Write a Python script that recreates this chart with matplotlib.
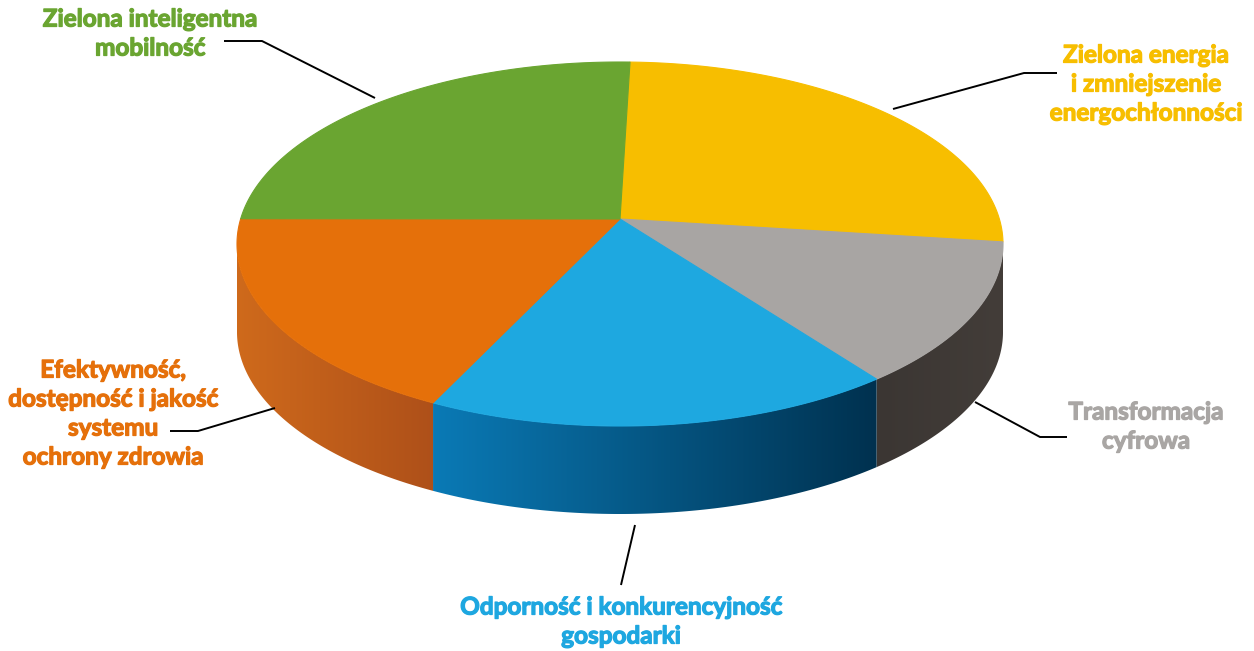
import numpy as np
import matplotlib
matplotlib.use("Agg")
import matplotlib.pyplot as plt
import matplotlib.patheffects as pe
from matplotlib.patches import Polygon
from matplotlib.colors import to_rgb

# ---- data (clockwise from the top) ----
categories = [
    "Zielona energia\ni zmniejszenie\nenergochłonności",
    "Transformacja\ncyfrowa",
    "Odporność i konkurencyjność\ngospodarki",
    "Efektywność,\ndostępność i jakość\nsystemu\nochrony zdrowia",
    "Zielona inteligentna\nmobilność",
]
values = [24.4, 13.5, 19.8, 19.1, 23.2]
top_colors = ["#f7be00", "#a8a5a3", "#1ea8e0", "#e5700a", "#6aa531"]
side_left = ["#c99a00", "#3b3633", "#0a7ab6", "#cf6a1c", "#5a8c2a"]
side_right = ["#b08800", "#433d39", "#00314f", "#ae5019", "#4f7d24"]
label_colors = ["#f7be00", "#a9a6a4", "#1ea7e0", "#e5700a", "#6aa531"]

# ---- geometry (pixel space) ----
W, H = 1254, 651
cx, cy = 620, 244
rx, ry = 383, 182
depth = 88
apex = (620, 219)
start = 88.5

fig = plt.figure(figsize=(W / 100, H / 100), dpi=100)
ax = fig.add_axes([0, 0, 1, 1])
ax.set_xlim(0, W)
ax.set_ylim(H, 0)
ax.axis("off")

total = float(sum(values))
bounds = [start]
for v in values:
    bounds.append(bounds[-1] - v / total * 360.0)


def ept(t, dy=0.0):
    r = np.radians(t)
    return cx + rx * np.cos(r), cy - ry * np.sin(r) + dy


# sides (front half: 180 <= t <= 360)
for i in range(len(values)):
    t0, t1 = bounds[i], bounds[i + 1]  # t0 > t1
    ts = np.linspace(t1, t0, 600)
    keep = [t for t in ts if 180 <= np.mod(t, 360) <= 360 or np.isclose(np.mod(t, 360), 0)]
    if len(keep) < 2:
        continue
    top = [ept(t) for t in keep]
    bot = [ept(t, depth) for t in keep][::-1]
    poly = Polygon(top + bot, closed=True, facecolor="none", edgecolor="none")
    ax.add_patch(poly)
    xs = [p[0] for p in top]
    x_lo, x_hi = min(xs), max(xs)
    ys = [p[1] for p in top + bot]
    c0 = np.array(to_rgb(side_left[i]))
    c1 = np.array(to_rgb(side_right[i]))
    f = np.linspace(0, 1, 256)[None, :, None]
    img = c0[None, None, :] + (c1 - c0)[None, None, :] * f
    img = np.repeat(img, 2, axis=0)
    im = ax.imshow(img, extent=(x_lo - 1, x_hi + 1, max(ys) + 1, min(ys) - 1),
                   aspect="auto", interpolation="bilinear", zorder=1)
    im.set_clip_path(poly)

# top faces
for i in range(len(values)):
    t0, t1 = bounds[i], bounds[i + 1]
    ts = np.linspace(t0, t1, 300)
    pts = [apex] + [ept(t) for t in ts]
    ax.add_patch(Polygon(pts, closed=True, facecolor=top_colors[i],
                         edgecolor=top_colors[i], linewidth=0.8, zorder=2))

ax.set_xlim(0, W)
ax.set_ylim(H, 0)

# ---- labels ----
label_pos = [(1146, 55), (1146, 412), (621, 607), (113, 370), (150, 19)]
line_gap = 29
for i, txt in enumerate(categories):
    x, y = label_pos[i]
    for j, line in enumerate(txt.split("\n")):
        ax.text(x, y + j * line_gap, line, ha="center", va="center",
                fontsize=17.5, fontweight="bold", family="Lato",
                color=label_colors[i], zorder=3,
                path_effects=[pe.withStroke(linewidth=0.9, foreground=label_colors[i])])

leaders = [
    [(893, 109), (1024, 73), (1057, 73)],
    [(975, 402), (1040, 437), (1067, 437)],
    [(635, 525), (621, 585)],
    [(275, 408), (198, 431), (170, 431)],
    [(375, 98), (262, 41), (224, 41)],
]
for seg in leaders:
    xs, ys = zip(*seg)
    ax.plot(xs, ys, color="black", lw=1.4, solid_capstyle="butt", zorder=3)

fig.savefig("out.png", dpi=100)
